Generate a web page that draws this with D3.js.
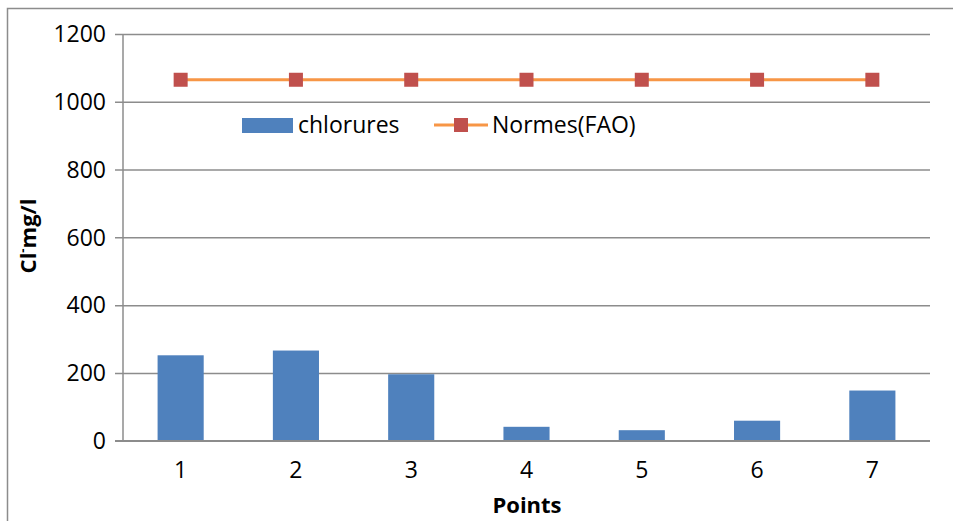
<!DOCTYPE html>
<html>
<head>
<meta charset="utf-8">
<script src="https://cdn.jsdelivr.net/npm/d3@7"></script>
<style>
body { margin: 0; background: #fff; }
svg { display: block; }
text { font-family: "Open Sans", "Liberation Sans", sans-serif; fill: #000; }
</style>
</head>
<body>
<svg id="chart" width="953" height="521"></svg>
<script>
const categories = ["1", "2", "3", "4", "5", "6", "7"];
const chlorures = [252, 266, 196, 41, 31, 59, 148];
const normesFAO = [1065, 1065, 1065, 1065, 1065, 1065, 1065];
const yTicks = [0, 200, 400, 600, 800, 1000, 1200];
const seriesNames = ["chlorures", "Normes(FAO)"];

const svg = d3.select("#chart");
const W = 953, H = 521;
const m = { left: 123, right: 23, top: 34, bottom: 80 };
const x0 = m.left, x1 = W - m.right, yTop = m.top, yBot = 440.7;

// outer frame
svg.append("rect").attr("x", 7.5).attr("y", 8.5).attr("width", 960).attr("height", 530)
  .attr("fill", "none").attr("stroke", "#8c8c8c").attr("stroke-width", 1.5);

const x = d3.scaleBand().domain(categories).range([x0, x1]).paddingInner(0.6).paddingOuter(0.3);
const y = d3.scaleLinear().domain([0, 1200]).range([yBot, yTop]);

// gridlines + y axis
const yAxis = d3.axisLeft(y).tickValues(yTicks).tickFormat(d3.format("d"))
  .tickSize(-(x1 - x0)).tickSizeOuter(0).tickPadding(17);
const gy = svg.append("g").attr("transform", `translate(${x0},0)`).call(yAxis);
gy.select(".domain").remove();
gy.selectAll(".tick line").attr("x1", -8).attr("stroke", "#8c8c8c").attr("stroke-width", 1.5);
gy.selectAll(".tick text").attr("font-size", 23).attr("font-family", "Open Sans").attr("fill", "#000").attr("dy", "0.34em");

// vertical axis line
svg.append("line").attr("x1", x0).attr("x2", x0).attr("y1", yTop).attr("y2", yBot)
  .attr("stroke", "#8c8c8c").attr("stroke-width", 1.5);

// bars
svg.append("g").selectAll("rect").data(chlorures).join("rect")
  .attr("x", (d, i) => x(categories[i]))
  .attr("width", x.bandwidth())
  .attr("y", d => y(d))
  .attr("height", d => y(0) - y(d))
  .attr("fill", "#4F81BD");

// baseline redraw
svg.append("line").attr("x1", x0 - 8).attr("x2", x1).attr("y1", y(0)).attr("y2", y(0))
  .attr("stroke", "#8c8c8c").attr("stroke-width", 1.5);

// x axis labels
const xAxis = d3.axisBottom(x).tickSize(0).tickPadding(21);
const gx = svg.append("g").attr("transform", `translate(0,${yBot})`).call(xAxis);
gx.select(".domain").remove();
gx.selectAll(".tick text").attr("font-size", 23).attr("font-family", "Open Sans").attr("fill", "#000");

// line series
const cx = c => x(c) + x.bandwidth() / 2;
const line = d3.line().x((d, i) => cx(categories[i])).y(d => y(d));
svg.append("path").datum(normesFAO).attr("d", line)
  .attr("fill", "none").attr("stroke", "#F79646").attr("stroke-width", 3);
svg.append("g").selectAll("rect").data(normesFAO).join("rect")
  .attr("x", (d, i) => cx(categories[i]) - 7)
  .attr("y", d => y(d) - 7)
  .attr("width", 14).attr("height", 14)
  .attr("fill", "#C0504D");

// legend
const lg = svg.append("g");
lg.append("rect").attr("x", 242).attr("y", 118).attr("width", 51).attr("height", 15).attr("fill", "#4F81BD");
lg.append("text").attr("x", 298).attr("y", 133).attr("font-size", 23).text(seriesNames[0]);
lg.append("line").attr("x1", 434).attr("x2", 488).attr("y1", 125).attr("y2", 125)
  .attr("stroke", "#F79646").attr("stroke-width", 3);
lg.append("rect").attr("x", 454).attr("y", 118).attr("width", 14).attr("height", 14).attr("fill", "#C0504D");
lg.append("text").attr("x", 492).attr("y", 133).attr("font-size", 23).text(seriesNames[1]);

// axis titles
svg.append("text").attr("x", 527).attr("y", 513).attr("text-anchor", "middle")
  .attr("font-size", 22).attr("font-weight", "bold").text("Points");
const yt = svg.append("text").attr("transform", "translate(36,236) rotate(-90)")
  .attr("text-anchor", "middle").attr("font-size", 22).attr("font-weight", "bold");
yt.append("tspan").text("Cl");
yt.append("tspan").attr("font-size", 13).attr("baseline-shift", "super").text("-");
yt.append("tspan").text("mg/l");
</script>
</body>
</html>
